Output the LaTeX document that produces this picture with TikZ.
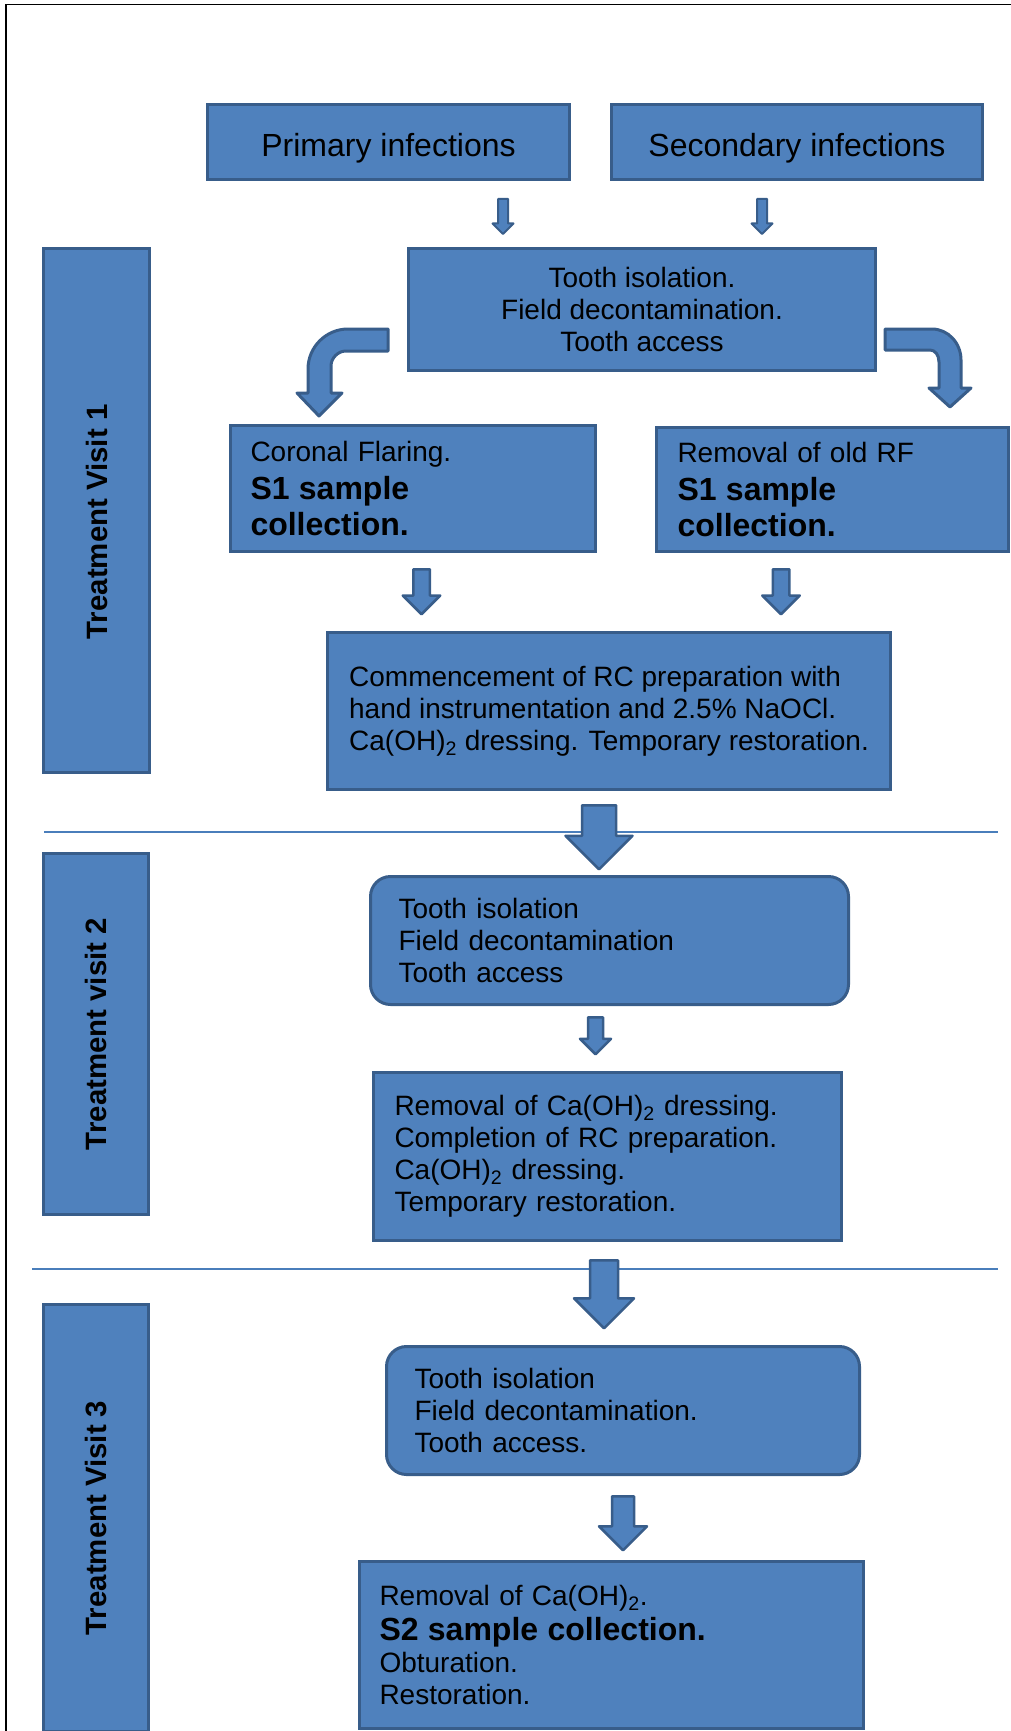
\documentclass[tikz,border=0pt]{standalone}
\usepackage{fontspec}
\setmainfont{Liberation Sans}
\usetikzlibrary{shapes.arrows}

\definecolor{boxfill}{RGB}{79,129,189}
\definecolor{boxline}{RGB}{56,93,138}
\definecolor{sepline}{RGB}{74,126,187}
\newcommand{\bigbf}{\fontsize{32}{35}\selectfont\bfseries}

\begin{document}
\begin{tikzpicture}[
    x=1pt, y=-1pt,
    every node/.style={draw=boxline, fill=boxfill, line width=3pt, inner sep=0pt, text=black, font=\fontsize{28}{32}\selectfont},
    leftbox/.style={align=left},
    roundbox/.style={align=left, rounded corners=20pt},
    topbox/.style={minimum height=75pt, text height=29pt, text depth=0pt, font=\fontsize{32}{36}\selectfont},
    visit/.style={rotate=90, font=\fontsize{29.4}{32}\selectfont\bfseries},
    down/.style={single arrow, rotate=-90, anchor=tail, line width=2.5pt, line join=round},
    bent/.style={draw=boxline, fill=boxfill, line width=3pt, line join=round}
]
\useasboundingbox (0,0) rectangle (1011,1731);

% Frame and separators
\draw[line width=1.6pt] (6,1731) -- (6,4.5) -- (1011,4.5);
\draw[sepline, line width=1.8pt] (44,832) -- (998,832);
\draw[sepline, line width=1.8pt] (32,1269) -- (998,1269);

% Nodes
\node[topbox, minimum width=362pt] (PI) at (388.5,142) {Primary infections};
\node[topbox, minimum width=371pt] (SI) at (797,142) {Secondary infections};
\node[align=center, minimum width=467pt, minimum height=122pt] (TI1) at (642,309.5) {Tooth isolation.\\ Field decontamination.\\ Tooth access};
\node[leftbox, text width=325pt, inner xsep=20pt, minimum height=126pt] (CF) at (413,488.5) {Coronal Flaring.\\[3pt] \bigbf S1 sample\\[4pt] collection.};
\node[leftbox, text width=310pt, inner xsep=21pt, minimum height=124pt] (RF) at (832.5,489.5) {Removal of old RF\\[3pt] \bigbf S1 sample\\[4pt] collection.};
\node[leftbox, minimum width=563pt, minimum height=157pt] (RC) at (609,711) {Commencement of RC preparation with\\ hand instrumentation and 2.5\% NaOCl.\\ Ca(OH)\textsubscript{2} dressing. Temporary restoration.};

\node[roundbox, text width=422pt, inner xsep=28pt, minimum height=128pt] (TI2) at (609.5,940.5) {Tooth isolation\\ Field decontamination\\ Tooth access};
\node[leftbox, text width=426pt, inner xsep=21pt, minimum height=168pt] (RM2) at (607.5,1156.5) {Removal of Ca(OH)\textsubscript{2} dressing.\\ Completion of RC preparation.\\ Ca(OH)\textsubscript{2} dressing.\\ Temporary restoration.};

\node[roundbox, text width=417pt, inner xsep=28pt, minimum height=128pt] (TI3) at (623,1410.5) {Tooth isolation\\ Field decontamination.\\ Tooth access.};
\node[leftbox, text width=464pt, inner xsep=20pt, minimum height=167pt] (S2) at (611.5,1645) {Removal of Ca(OH)\textsubscript{2}.\\[3pt] {\bigbf S2 sample collection.}\\ Obturation.\\ Restoration.};

\node[visit, minimum width=524pt, minimum height=106pt] (TV1) at (96.5,510) {Treatment Visit 1\hspace{24pt}\mbox{}};
\node[visit, minimum width=361pt, minimum height=105pt] (TV2) at (96,1034) {Treatment visit 2};
\node[visit, minimum width=427pt, minimum height=105pt] (TV3) at (96,1518) {Treatment Visit 3};

% Arrows
\node[down, line width=2pt, inner ysep=4pt, minimum height=35pt, minimum width=19pt, single arrow head extend=5.5pt] (A1) at (503,198) {};
\node[down, line width=2pt, inner ysep=4pt, minimum height=35pt, minimum width=19pt, single arrow head extend=5.5pt] (A2) at (762,198) {};
\node[down, inner ysep=7pt, minimum height=45pt, minimum width=35pt, single arrow head extend=10.5pt] (A3) at (421.5,568) {};
\node[down, inner ysep=7pt, minimum height=45pt, minimum width=35pt, single arrow head extend=10.5pt] (A4) at (781,568) {};
\node[down, inner ysep=15.75pt, minimum height=64pt, minimum width=66.5pt, single arrow head extend=16.5pt] (A5) at (599,804) {};
\node[down, inner ysep=6.25pt, minimum height=37pt, minimum width=28.5pt, single arrow head extend=8pt] (A6) at (595.5,1016) {};
\node[down, inner ysep=12.75pt, minimum height=68pt, minimum width=57.5pt, single arrow head extend=16pt] (A7) at (604,1259) {};
\node[down, inner ysep=9.75pt, minimum height=54pt, minimum width=45.5pt, single arrow head extend=13pt] (A8) at (623,1495) {};

% Bent arrows out of TI1
\draw[bent] (388,329) -- (348,329) .. controls (326,329) and (308,347) .. (308,369)
  -- (308,393) -- (297,393) -- (319,416) -- (342,393) -- (331,393) -- (331,366)
  .. controls (331,358) and (338,351) .. (346,351) -- (388,351) -- cycle;
\draw[bent] (885,329) -- (932,329) .. controls (948,329) and (961,343) .. (961,360)
  -- (961,388) -- (971,388) -- (950,407) -- (929,388) -- (939,388) -- (939,362)
  .. controls (939,355) and (935,350) .. (930,350) -- (885,350) -- cycle;

\end{tikzpicture}
\end{document}
